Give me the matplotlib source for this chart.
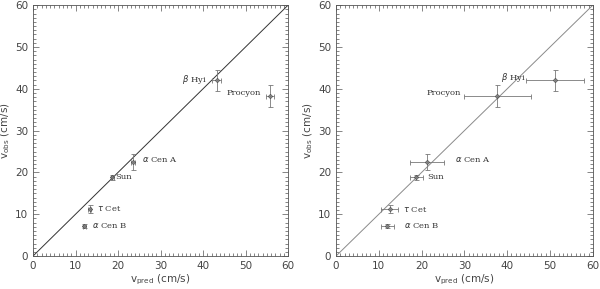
import numpy as np
import matplotlib
matplotlib.use('Agg')
import matplotlib.pyplot as plt
from matplotlib.ticker import MultipleLocator

# data
stars   = ['Sun', r'$\alpha$ Cen A', r'$\alpha$ Cen B', r'$\beta$ Hyi', 'Procyon', r'$\tau$ Cet']
v_obs   = [18.8, 22.6, 7.1, 42.0, 38.2, 11.2]
v_obs_e = [0.6, 1.9, 0.5, 2.6, 2.6, 1.0]

v_pred_l   = [18.7, 23.5, 12.1, 43.2, 55.8, 13.3]
v_pred_l_e = [0.4, 0.4, 0.4, 1.1, 1.0, 0.4]

v_pred_r   = [18.8, 21.3, 12.0, 51.2, 37.7, 12.5]
v_pred_r_e = [1.6, 3.9, 1.5, 6.7, 7.8, 2.1]

# label anchor points (data coords) and alignment
lab_l = [(19.3, 19.0, 'left'), (25.6, 23.0, 'left'), (14.0, 7.2, 'left'),
         (40.9, 42.3, 'right'), (53.6, 38.9, 'right'), (15.0, 11.4, 'left')]
lab_r = [(21.3, 19.0, 'left'), (27.8, 23.0, 'left'), (15.9, 7.2, 'left'),
         (44.2, 42.7, 'right'), (29.2, 38.9, 'right'), (15.7, 11.2, 'left')]

fig = plt.figure(figsize=(6.0, 2.89), dpi=100)
ax1 = fig.add_axes([0.055, 0.114, 0.425, 0.868])
ax2 = fig.add_axes([0.56, 0.114, 0.428, 0.868])

for ax, vp, vpe, labs, lc in [(ax1, v_pred_l, v_pred_l_e, lab_l, '#333333'),
                              (ax2, v_pred_r, v_pred_r_e, lab_r, '#8a8a8a')]:
    ax.plot([0, 60], [0, 60], color=lc, lw=0.7)
    ax.errorbar(vp, v_obs, xerr=vpe, yerr=v_obs_e, fmt='D', ms=2.2,
                mfc='none', mec='#555555', mew=0.6, ecolor='#777777',
                elinewidth=0.6, capsize=1.8, capthick=0.6)
    for name, (tx, ty, ha) in zip(stars, labs):
        ax.text(tx, ty, name, ha=ha, va='center', fontsize=6,
                family='DejaVu Serif', color='#333333')
    ax.set_xlim(0, 60)
    ax.set_ylim(0, 60)
    ax.xaxis.set_major_locator(MultipleLocator(10))
    ax.yaxis.set_major_locator(MultipleLocator(10))
    ax.xaxis.set_minor_locator(MultipleLocator(1))
    ax.yaxis.set_minor_locator(MultipleLocator(1))
    ax.tick_params(which='both', direction='in', top=True, right=True,
                   labelsize=7.5, colors='#555555', labelcolor='#444444', width=0.5)
    ax.tick_params(which='major', length=4)
    ax.tick_params(which='minor', length=2)
    for s in ax.spines.values():
        s.set_linewidth(0.6)
        s.set_color('#555555')
    ax.set_xlabel(r'v$_{\rm pred}$ (cm/s)', fontsize=7.5, color='#444444', labelpad=1)
    ax.set_ylabel(r'v$_{\rm obs}$ (cm/s)', fontsize=7.5, color='#444444', labelpad=2)

plt.savefig('out.png', dpi=100)
